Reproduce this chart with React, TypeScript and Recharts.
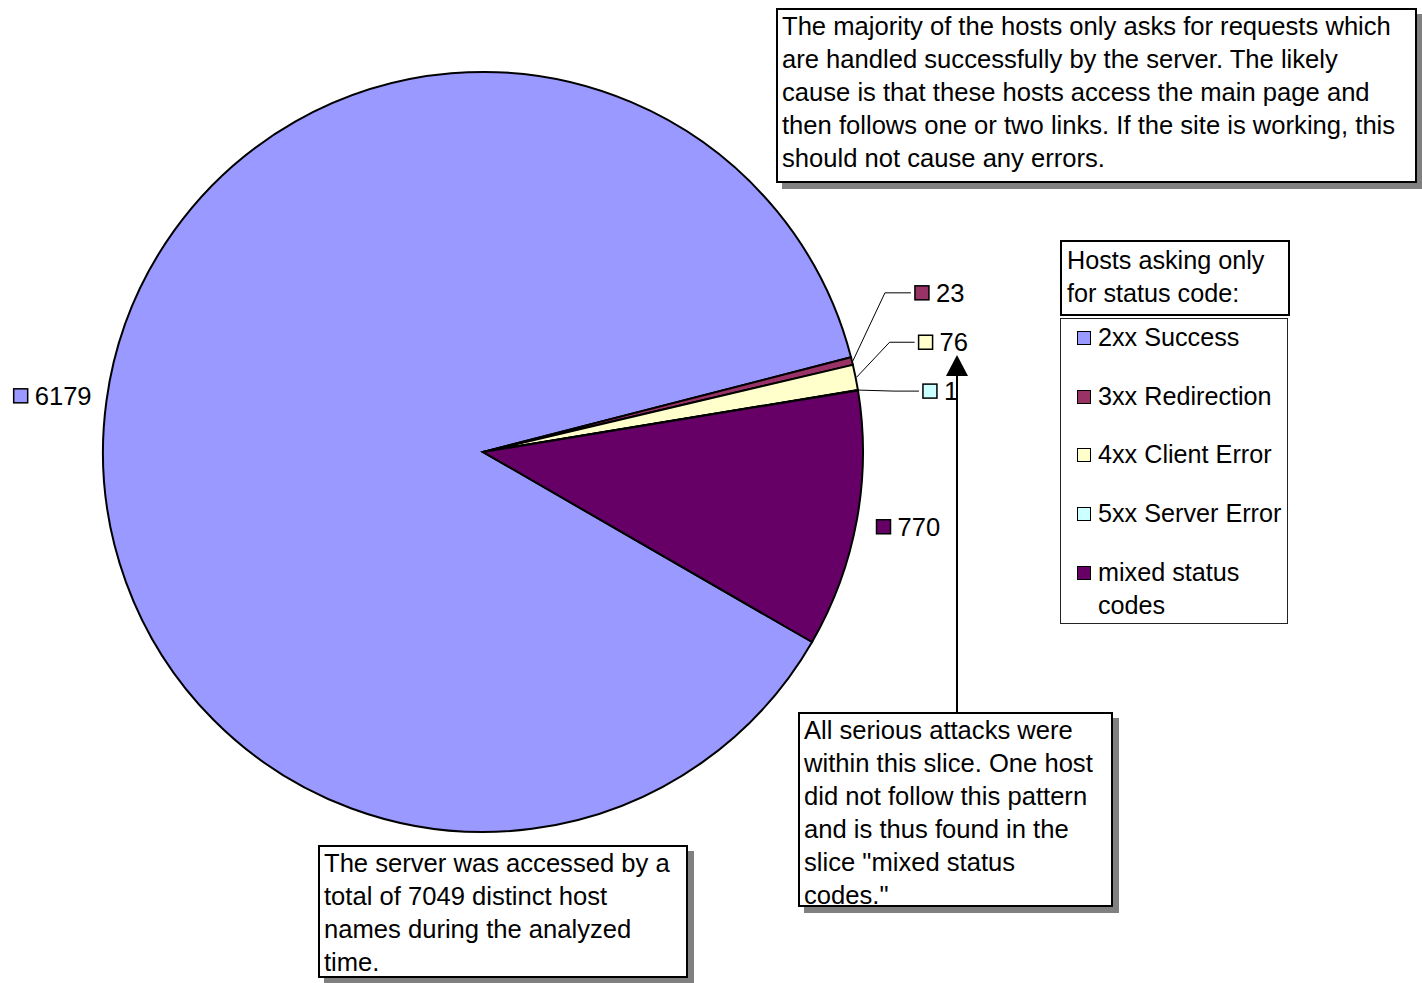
import React from 'react';
import { PieChart, Pie, Cell, Legend } from 'recharts';

// Hosts grouped by the status codes they received
const categories = ['2xx Success', '3xx Redirection', '4xx Client Error', '5xx Server Error', 'mixed status codes'];
const hostCounts = [6179, 23, 76, 1, 770];
const sliceColors = ['#9999FF', '#993366', '#FFFFCC', '#CCFFFF', '#660066'];
const legendTitle = ['Hosts asking only', 'for status code:'];

const topNote = [
  'The majority of the hosts only asks for requests which',
  'are handled successfully by the server. The likely',
  'cause is that these hosts access the main page and',
  'then follows one or two links. If the site is working, this',
  'should not cause any errors.',
];
const attackNote = [
  'All serious attacks were',
  'within this slice. One host',
  'did not follow this pattern',
  'and is thus found in the',
  'slice "mixed status',
  'codes."',
];
const totalNote = [
  'The server was accessed by a',
  'total of 7049 distinct host',
  'names during the analyzed',
  'time.',
];

const data = categories.map((name, i) => ({ name, value: hostCounts[i], color: sliceColors[i] }));

const FONT = '"Liberation Sans", Arial, Helvetica, sans-serif';
const FS = 25.6;
const LEGEND_FS = 25.2;
const RAD = Math.PI / 180;

// label placement: large slices get a plain label, small ones a leader line
const labelStyle: Record<number, { kind: 'plain'; r: number; dx: number; dy: number } | { kind: 'leader'; elbowDx: number; elbowDy: number; endDx: number }> = {
  0: { kind: 'plain', r: 400, dx: -73, dy: -2 },
  1: { kind: 'leader', elbowDx: 32, elbowDy: -68, endDx: 58 },
  2: { kind: 'leader', elbowDx: 33, elbowDy: -35, endDx: 58 },
  3: { kind: 'leader', elbowDx: 35, elbowDy: 1, endDx: 60 },
  4: { kind: 'plain', r: 400, dx: 0, dy: 3 },
};

const renderLabel = (props: any) => {
  const { cx, cy, midAngle, outerRadius, index, value } = props;
  const cfg = labelStyle[index];
  const color = sliceColors[index];
  const pt = (r: number) => ({
    x: cx + Math.cos(-midAngle * RAD) * r,
    y: cy + Math.sin(-midAngle * RAD) * r,
  });
  const tag = (left: number, cyText: number) => (
    <g>
      <rect x={left} y={cyText - 7} width={14} height={14} fill={color} stroke="#000" strokeWidth={1.5} />
      <text x={left + 21} y={cyText} dominantBaseline="central" fontSize={FS} fontFamily={FONT} fill="#000">
        {value}
      </text>
    </g>
  );
  if (cfg.kind === 'plain') {
    const p = pt(cfg.r);
    return <g key={`lbl-${index}`}>{tag(p.x + cfg.dx, p.y + cfg.dy)}</g>;
  }
  const e = pt(outerRadius + 1);
  const elbow = { x: e.x + cfg.elbowDx, y: e.y + cfg.elbowDy };
  const end = { x: e.x + cfg.endDx, y: elbow.y };
  return (
    <g key={`lbl-${index}`}>
      <polyline
        points={`${e.x},${e.y} ${elbow.x},${elbow.y} ${end.x},${end.y}`}
        fill="none"
        stroke="#000"
        strokeWidth={1}
      />
      {tag(end.x + 4, elbow.y)}
    </g>
  );
};

const renderLegend = (props: any) => {
  const payload = (props.payload || []) as any[];
  const rowTops = [0, 59, 117, 176, 235];
  return (
    <div style={{ position: 'relative', width: 232, height: 386, fontFamily: FONT, fontSize: LEGEND_FS, color: '#000' }}>
      <div
        style={{
          position: 'absolute', left: 0, top: 0, width: 230, height: 76, boxSizing: 'border-box',
          border: '2px solid #000', background: '#fff', padding: '0 0 0 5px', lineHeight: '33px', paddingTop: 2,
        }}
      >
        {legendTitle.map((t) => (
          <div key={t} style={{ whiteSpace: 'nowrap' }}>{t}</div>
        ))}
      </div>
      <div
        style={{
          position: 'absolute', left: 0, top: 78, width: 228, height: 306, boxSizing: 'border-box',
          border: '1px solid #222', background: '#fff',
        }}
      >
        {payload.map((entry, i) => (
          <div key={entry.value} style={{ position: 'absolute', left: 16, top: rowTops[i] + 2, lineHeight: '33px' }}>
            <span
              style={{
                position: 'absolute', left: 0, top: 10, width: 14, height: 14, boxSizing: 'border-box',
                border: '1.5px solid #000', background: entry.color,
              }}
            />
            <div style={{ marginLeft: 21, width: 190 }}>
              {entry.value === 'mixed status codes' ? (
                <>
                  <div>mixed status</div>
                  <div>codes</div>
                </>
              ) : (
                <div style={{ whiteSpace: 'nowrap' }}>{entry.value}</div>
              )}
            </div>
          </div>
        ))}
      </div>
    </div>
  );
};

const NoteBox = ({ left, top, width, height, lines }: { left: number; top: number; width: number; height: number; lines: string[] }) => (
  <div
    style={{
      position: 'absolute', left, top, width, height, boxSizing: 'border-box',
      border: '2px solid #000', background: '#fff', boxShadow: '6px 6px 0 #808080',
      padding: '0 0 0 4px', fontFamily: FONT, fontSize: FS, lineHeight: '33px', color: '#000', overflow: 'visible',
    }}
  >
    {lines.map((l, i) => (
      <div key={i} style={{ whiteSpace: 'nowrap' }}>{l}</div>
    ))}
  </div>
);

export default function App() {
  return (
    <div style={{ position: 'absolute', left: 0, top: 0, width: 1422, height: 983, background: '#fff', overflow: 'hidden' }}>
      <PieChart width={1422} height={983} margin={{ top: 0, right: 0, bottom: 0, left: 0 }}>
        <Pie
          data={data}
          dataKey="value"
          nameKey="name"
          cx={483}
          cy={452}
          outerRadius={380}
          startAngle={-30}
          endAngle={-390}
          stroke="#000"
          strokeWidth={2}
          label={renderLabel}
          labelLine={false}
          isAnimationActive={false}
        >
          {data.map((d) => (
            <Cell key={d.name} fill={d.color} />
          ))}
        </Pie>
        <Legend
          content={renderLegend}
          wrapperStyle={{ position: 'absolute', left: 1060, top: 240, width: 232, height: 386 }}
          layout="vertical"
          align="right"
          verticalAlign="top"
        />
      </PieChart>
      <NoteBox left={776} top={8} width={641} height={175} lines={topNote} />
      <NoteBox left={798} top={712} width={315} height={195} lines={attackNote} />
      <NoteBox left={318} top={845} width={370} height={133} lines={totalNote} />
      <svg
        width={1422}
        height={983}
        style={{ position: 'absolute', left: 0, top: 0, pointerEvents: 'none' }}
      >
        <line x1={957} y1={712} x2={957} y2={372} stroke="#000" strokeWidth={2} />
        <polygon points="946,376 968,376 957,355" fill="#000" />
      </svg>
    </div>
  );
}
